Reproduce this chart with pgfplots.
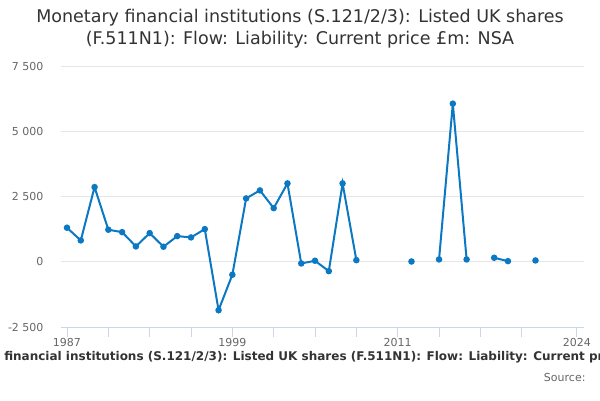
\documentclass[border=0pt]{standalone}
\usepackage{pgfplots}
\pgfplotsset{compat=1.18}
\usepackage{fontspec}
\setmainfont{DejaVu Sans}
\definecolor{seriesblue}{HTML}{0A78C2}
\definecolor{gridgray}{HTML}{E6E6E6}
\definecolor{axisblue}{HTML}{CCD6EB}
\definecolor{labelgray}{HTML}{666666}
\definecolor{titlegray}{HTML}{333333}

\begin{document}
\begin{tikzpicture}[x=1pt,y=1pt]
\path[use as bounding box] (0,0) rectangle (600,400);
\clip (0,0) rectangle (600,400);
\begin{axis}[
    at={(61pt,73pt)}, anchor=south west,
    width=523pt, height=261pt, scale only axis,
    xmin=1986.565, xmax=2024.52,
    ymin=-2500, ymax=7500,
    xtick={1987,1990,...,2020,2024},
    xticklabels={1987,,,,1999,,,,2011,,,,2024},
    ytick={-2500,0,2500,5000,7500},
    yticklabels={-2 500,0,2 500,5 000,7 500},
    ymajorgrids, grid style={gridgray, line width=0.75pt},
    axis x line*=bottom, axis y line*=left,
    x axis line style={axisblue, line width=0.75pt, -},
    y axis line style={draw=none},
    xtick style={axisblue, line width=0.75pt},
    ytick style={draw=none},
    major tick length=10pt,
    tick align=outside,
    ticklabel style={font=\fontsize{11}{13}\selectfont, text=labelgray},
    xticklabel style={yshift=2pt},
    yticklabel style={xshift=-4pt},
    unbounded coords=jump,
    clip=false,
]
\addplot[seriesblue, line width=2pt, mark=*, mark size=2.2pt,
    mark options={draw=none, fill=seriesblue}] coordinates {
    (1987,1304) (1988,817) (1989,2860) (1990,1227) (1991,1135)
    (1992,587) (1993,1097) (1994,575) (1995,982) (1996,932)
    (1997,1250) (1998,-1856) (1999,-498) (2000,2427) (2001,2734)
    (2002,2055) (2003,3002) (2004,-65) (2005,38) (2006,-360)
    (2007,3002) (2008,61) (2009,nan) (2010,nan) (2011,nan)
    (2012,10) (2013,nan) (2014,88) (2015,6058) (2016,88)
    (2017,nan) (2018,153) (2019,23) (2020,nan) (2021,50)
};
\end{axis}
\node[text=titlegray, font=\fontsize{17.5}{22}\selectfont, align=center] at (300,371)
    {Monetary financial institutions (S.121/2/3): Listed UK shares\\(F.511N1): Flow: Liability: Current price £m: NSA};
\node[text=titlegray, font=\bfseries\fontsize{12}{14}\selectfont] at (311,43)
    {Monetary financial institutions (S.121/2/3): Listed UK shares (F.511N1): Flow: Liability: Current price £m: NSA};
\node[text=labelgray, font=\fontsize{11}{13}\selectfont, anchor=east] at (589,23) {Source:};
\end{tikzpicture}
\end{document}
